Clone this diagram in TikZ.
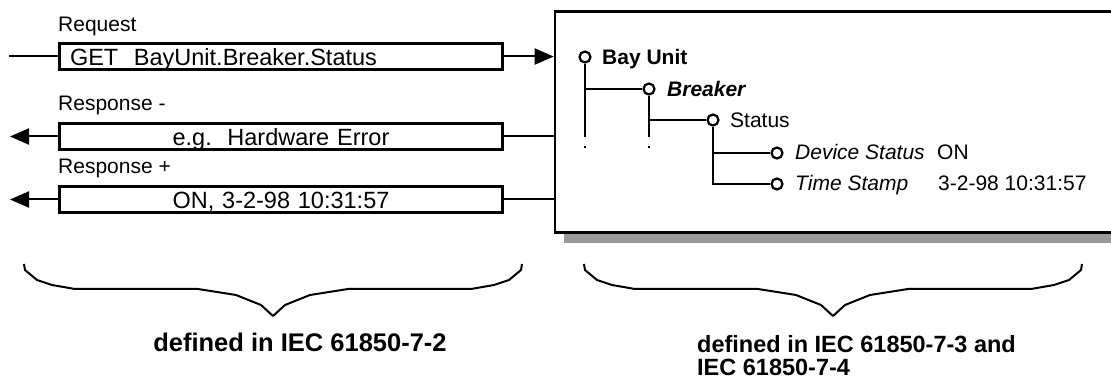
\documentclass[tikz,border=0pt]{standalone}
\usepackage{fontspec}
\setmainfont{Liberation Sans}
\usetikzlibrary{arrows.meta,positioning}
\definecolor{shadowgray}{RGB}{153,153,153}

\tikzset{
  msgbox/.style={draw,line width=2.6pt,minimum width=443pt,minimum height=26.5pt,
    inner sep=0pt,text height=21pt,text depth=2pt,font=\fontsize{23.5}{27}\selectfont},
  lbl/.style={anchor=base west,inner sep=0pt,font=\fontsize{21}{25}\selectfont},
  leaf/.style={circle,draw,line width=2.2pt,minimum size=11pt,inner sep=0pt,fill=white},
  wire/.style={line width=2.3pt},
  bigarrow/.style={line width=2pt,-{Triangle[length=19pt,width=16pt]}},
  endmark/.style={fill,inner sep=0pt,minimum size=2.8pt},
  note/.style={inner sep=0pt,font=\fontsize{23.5}{23}\selectfont\bfseries},
  curlybrace/.pic={
    \draw[line width=2pt,line join=round]
      (-249,-52) -- (-248,-46) -- (-236,-36) -- (-221,-31) -- (-198,-27)
      -- (-75,-27) -- (-37,-21) -- (-12,-11) -- (0,0)
      -- (12,-11) -- (37,-21) -- (75,-27) -- (198,-27)
      -- (221,-31) -- (236,-36) -- (248,-46) -- (249,-52);
  }
}

\begin{document}
\begin{tikzpicture}[x=1pt,y=-1pt]
\useasboundingbox (0,0) rectangle (1111,379);
\clip (0,0) rectangle (1111,379);

% service messages
\node[lbl] (reqlbl) at (58,32) {Request};
\node[msgbox,text width=422pt,align=left] (req) at (281,56.5) {GET\ \ BayUnit.Breaker.Status};
\node[lbl] (neglbl) at (58,111) {Response -};
\node[msgbox,text width=422pt,align=center] (neg) at (281,136.5) {e.g.\ \ Hardware Error\hspace*{16pt}};
\node[lbl] (poslbl) at (58,174) {Response +};
\node[msgbox,text width=422pt,align=center] (pos) at (281,199.5) {ON, 3-2-98 10:31:57\hspace*{16pt}};

\coordinate (reqin) at (9,56.5);
\coordinate (outleft) at (10,0);

% object model
\fill[shadowgray] (564,22) rectangle (1170,243);
\node[draw,fill=white,line width=2.6pt,minimum width=620pt,minimum height=221pt,
  inner sep=0pt,anchor=north west] (panel) at (553.7,10) {};

\draw[line width=2pt] (reqin) -- (req.west);
\draw[bigarrow] (req.east) -- (req.east -| panel.west);
\draw[line width=2pt] (neg.east) -- (neg.east -| panel.west);
\draw[line width=2pt] (pos.east) -- (pos.east -| panel.west);
\draw[bigarrow] (neg.west) -- (neg.west -| outleft);
\draw[bigarrow] (pos.west) -- (pos.west -| outleft);

\node[leaf] (bay) at (585,57) {};
\node[leaf] (brk) at (649,89) {};
\node[leaf] (sts) at (713,120) {};
\node[leaf] (dev) at (777,153) {};
\node[leaf] (tim) at (777,184) {};
\coordinate (bayend) at (585,137);
\coordinate (brkend) at (649,137);
\node[endmark] (baydot) at (585,147) {};
\node[endmark] (brkdot) at (649,147) {};

\draw[wire] (bay.south) -- (bayend);
\draw[wire] (bay.south |- brk) -- (brk.west);
\draw[wire] (brk.south) -- (brkend);
\draw[wire] (brk.south |- sts) -- (sts.west);
\draw[wire] (sts.south) |- (tim.west);
\draw[wire] (sts.south |- dev) -- (dev.west);

\node[lbl,font=\fontsize{21}{25}\selectfont\bfseries] (baytxt) at (602,65) {Bay Unit};
\node[lbl,font=\fontsize{21}{25}\selectfont\bfseries\itshape] (brktxt) at (667,97) {Breaker};
\node[lbl] (ststxt) at (730,128) {Status};
\node[lbl,font=\fontsize{21}{25}\selectfont\itshape] (devtxt) at (795,160) {Device Status};
\node[lbl] (devval) at (937,160) {ON};
\node[lbl,font=\fontsize{21}{25}\selectfont\itshape] (timtxt) at (795,191) {Time Stamp};
\node[lbl] (timval) at (938,191) {3-2-98 10:31:57};

% standard references
\pic at (273,316) {curlybrace};
\pic at (833,316) {curlybrace};
\node[note,anchor=base,font=\fontsize{25.5}{25}\selectfont\bfseries] (leftref) at (300,352) {defined in IEC 61850-7-2};
\node[note,anchor=north west,align=left] (rightref) at (697,335)
  {defined in IEC 61850-7-3 and\\IEC 61850-7-4};

\end{tikzpicture}
\end{document}
